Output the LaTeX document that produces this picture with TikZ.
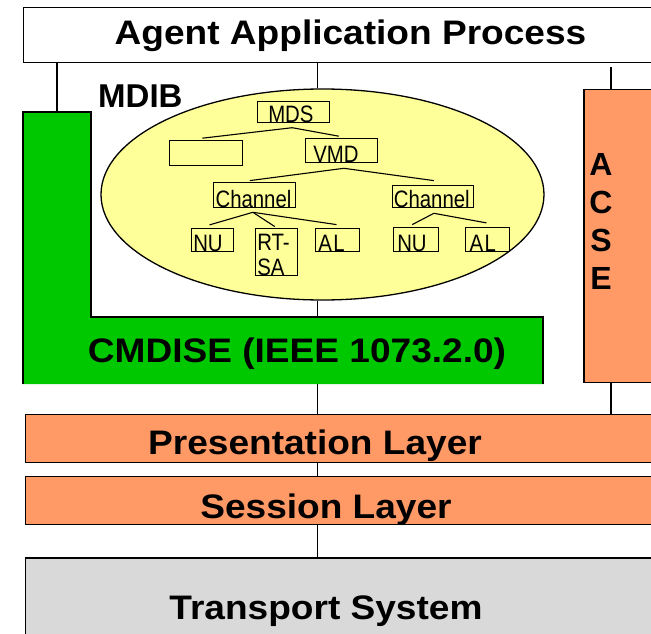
\documentclass[tikz,border=0pt]{standalone}
\usepackage{fontspec}
\setmainfont{Liberation Sans}
\usetikzlibrary{shapes.geometric}
\definecolor{cgreen}{RGB}{0,200,0}
\definecolor{corange}{RGB}{255,153,102}
\definecolor{cyellow}{RGB}{255,255,153}
\definecolor{cgray}{RGB}{217,217,217}
\newcommand\bxt[3]{\makebox[#1pt][l]{\hspace*{#2pt}\scalebox{0.97}[1.13]{#3}}}
\newcommand\bigtxt[1]{\scalebox{1.09}[1]{#1}}
\begin{document}
\begin{tikzpicture}[x=1pt,y=-1pt,
  layer/.style={draw, line width=1.3pt, inner sep=0pt, anchor=north west},
  bigt/.style={inner sep=0pt, anchor=base, font=\fontsize{34}{40}\selectfont\bfseries},
  acsel/.style={inner sep=0pt, anchor=base, font=\fontsize{32}{36}\selectfont\bfseries},
  sbox/.style={draw, line width=1.1pt, inner sep=0pt, anchor=south west, text depth=0pt, font=\fontsize{21}{22}\selectfont},
  tree/.style={line width=1.1pt},
  conn/.style={line width=1.1pt}
]
\useasboundingbox (0,0) rectangle (651,634);

% coordinates
\coordinate (axis) at (317.5,0);
\coordinate (gtop) at (57,112);
\coordinate (gin) at (91,317);
\coordinate (gbot) at (543,384);
\coordinate (acsetap) at (611,67);

% green CMDISE L-shape
\fill[cgreen] (23,384) -- (23,112) -- (91,112) -- (91,317) -- (543,317) -- (543,384) -- cycle;
\draw[line width=1.2pt] (23,384) -- (23,112) -- (91,112) -- (91,317) -- (543,317) -- (543,384);

% main boxes
\node[layer, minimum width=660pt, minimum height=55pt] (topbox) at (23,7) {};
\node[layer, fill=corange, minimum width=100pt, minimum height=292.7pt] (acse) at (583.3,89) {};
\node[layer, fill=corange, minimum width=660pt, minimum height=47.7pt] (pres) at (25,414) {};
\node[layer, fill=corange, minimum width=660pt, minimum height=48pt] (sess) at (25,476) {};
\node[layer, fill=cgray, minimum width=660pt, minimum height=100pt] (trans) at (25,557.3) {};

% MDIB ellipse
\node[ellipse, draw, line width=1.3pt, fill=cyellow, minimum width=443pt, minimum height=211pt, inner sep=0pt] (mdib) at (322.5,194.5) {};

% vertical connectors
\draw[conn] (topbox.south -| gtop) -- (gtop);
\draw[conn] (topbox.south -| axis) -- (mdib.north -| axis);
\draw[conn] (mdib.south -| axis) -- (gin -| axis);
\draw[conn] (gbot -| axis) -- (pres.north -| axis);
\draw[conn] (pres.south -| axis) -- (sess.north -| axis);
\draw[conn] (sess.south -| axis) -- (trans.north -| axis);
\draw[conn] (acsetap) -- (acse.north -| acsetap);
\draw[conn] (acse.south -| acsetap) -- (pres.north -| acsetap);

% texts
\node[bigt] (topT) at (350.5,45) {\bigtxt{Agent Application Process}};
\node[bigt] (cmdT) at (297,362.7) {\bigtxt{CMDISE (IEEE 1073.2.0)}};
\node[bigt] (presT) at (315,454.5) {\bigtxt{Presentation Layer}};
\node[bigt] (sessT) at (326,518.5) {\bigtxt{Session Layer}};
\node[bigt] (transT) at (326,619) {\bigtxt{Transport System}};
\node[inner sep=0pt, anchor=base west, font=\fontsize{33}{36}\selectfont\bfseries] (mdibT) at (98,107) {MDIB};
\node[acsel] (acseA) at (601,175) {A};
\node[acsel] (acseC) at (601,213) {C};
\node[acsel] (acseS) at (601,251) {S};
\node[acsel] (acseE) at (601,289) {E};

% tree boxes
\node[sbox, text height=21.6pt] (mds) at (256.7,123.3) {\bxt{72.6}{11}{MDS}};
\node[sbox, text height=25pt] (empty) at (169,166) {\makebox[72.7pt]{}};
\node[sbox, text height=24pt] (vmd) at (305,163.3) {\bxt{72.3}{7.7}{VMD}};
\node[sbox, text height=24.4pt] (ch1) at (213.3,207.7) {\bxt{81.7}{1.7}{Channel}};
\node[sbox, text height=21.7pt] (ch2) at (391.7,207.7) {\bxt{81.6}{1.6}{Channel}};
\node[sbox, text height=22.4pt] (nu1) at (191,251.7) {\bxt{42.3}{1.7}{NU}};
\node[sbox, text height=46.4pt] (rtsa) at (255,275.7) {\bxt{42.3}{1.7}{\begin{tabular}[b]{@{}l@{}}RT-\\SA\end{tabular}}};
\node[sbox, text height=22.4pt] (al1) at (315,251.7) {\bxt{44.3}{2.7}{A\kern1.5pt L}};
\node[sbox, text height=24pt] (nu2) at (393.3,251.7) {\bxt{44.4}{3.4}{NU}};
\node[sbox, text height=24pt] (al2) at (465,251.7) {\bxt{44.3}{4}{A\kern1.5pt L}};

% tree connectors
\coordinate (jmds) at ([xshift=-1.3pt,yshift=-4.4pt]mds.south);
\coordinate (jvmd) at ([xshift=2.2pt,yshift=-5pt]vmd.south);
\coordinate (jch1) at ([xshift=-1.85pt,yshift=-4.6pt]ch1.south);
\coordinate (jch2) at ([xshift=0.8pt,yshift=-5.6pt]ch2.south);
\draw[tree] (jmds) -- ([xshift=-3.6pt,yshift=1.7pt]empty.north);
\draw[tree] (jmds) -- ([xshift=-2.9pt,yshift=2pt]vmd.north);
\draw[tree] (jvmd) -- ([xshift=-4.9pt,yshift=1.6pt]ch1.north);
\draw[tree] (jvmd) -- ([xshift=0.8pt,yshift=4.3pt]ch2.north);
\draw[tree] (jch1) -- ([xshift=-3.2pt,yshift=3.3pt]nu1.north);
\draw[tree] (jch1) -- ([xshift=-1.9pt,yshift=1.6pt]rtsa.north);
\draw[tree] (jch1) -- ([xshift=-1.2pt,yshift=3.6pt]al1.north);
\draw[tree] (jch2) -- ([xshift=-3.8pt,yshift=2pt]nu2.north);
\draw[tree] (jch2) -- ([xshift=-1.2pt,yshift=3.7pt]al2.north);
\end{tikzpicture}
\end{document}
